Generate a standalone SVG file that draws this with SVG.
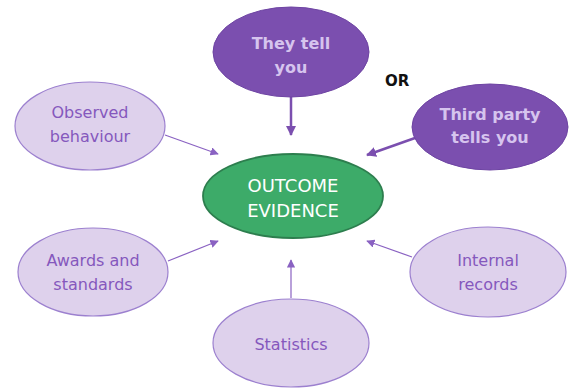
<svg xmlns="http://www.w3.org/2000/svg" width="574" height="390" viewBox="0 0 574 390">
<style>
.dark{fill:#7B4FAF;stroke:#6E44A3;stroke-width:1}
.light{fill:#DED1EC;stroke:#9C80CF;stroke-width:1.2}
.center{fill:#3DAB69;stroke:#2D7E4E;stroke-width:1.8}
.dt{font-family:"DejaVu Sans",Verdana,sans-serif;font-size:16px;font-weight:bold;fill:#D6C4EE;text-anchor:middle}
.lt{font-family:"DejaVu Sans",Verdana,sans-serif;font-size:16px;fill:#8558BD;text-anchor:middle}
.ct{font-family:"DejaVu Sans",Verdana,sans-serif;font-size:18px;fill:#FFFFFF;text-anchor:middle}
.or{font-family:"DejaVu Sans",Verdana,sans-serif;font-size:15px;font-weight:bold;fill:#111111}
.thick{stroke:#7B4FAF;stroke-width:2.5;fill:none}
.thin{stroke:#8A62C2;stroke-width:1.2;fill:none}
</style>
<defs>
<marker id="ah" viewBox="0 0 10 10" refX="9" refY="5" markerWidth="4" markerHeight="4" orient="auto" markerUnits="strokeWidth"><path d="M0,0 L10,5 L0,10 z" fill="#7B4FAF"/></marker>
<marker id="al" viewBox="0 0 10 10" refX="9" refY="5" markerWidth="7" markerHeight="7" orient="auto" markerUnits="strokeWidth"><path d="M0,0 L10,5 L0,10 z" fill="#8A62C2"/></marker>
</defs>
<g id="connectors">
<line class="thick" x1="291" y1="97" x2="291" y2="135" marker-end="url(#ah)"/>
<line class="thick" x1="415" y1="138" x2="367" y2="155" marker-end="url(#ah)"/>
<line class="thin" x1="165" y1="135" x2="218" y2="154" marker-end="url(#al)"/>
<line class="thin" x1="168" y1="261" x2="218" y2="241" marker-end="url(#al)"/>
<line class="thin" x1="291" y1="298" x2="291" y2="260" marker-end="url(#al)"/>
<line class="thin" x1="412" y1="257" x2="367" y2="241" marker-end="url(#al)"/>
</g>
<g id="they-tell-you">
<ellipse class="dark" cx="291" cy="52" rx="78" ry="45"/>
<text class="dt" x="291" y="49">They tell</text>
<text class="dt" x="291" y="73">you</text>
</g>
<text id="or" class="or" x="385" y="86">OR</text>
<g id="third-party">
<ellipse class="dark" cx="490" cy="127" rx="78" ry="43"/>
<text class="dt" x="490" y="120">Third party</text>
<text class="dt" x="490" y="143">tells you</text>
</g>
<g id="observed">
<ellipse class="light" cx="90" cy="126" rx="75" ry="44"/>
<text class="lt" x="90" y="118">Observed</text>
<text class="lt" x="90" y="142">behaviour</text>
</g>
<g id="outcome">
<ellipse class="center" cx="293" cy="196" rx="90" ry="42"/>
<text class="ct" x="293" y="192">OUTCOME</text>
<text class="ct" x="293" y="217">EVIDENCE</text>
</g>
<g id="awards">
<ellipse class="light" cx="93" cy="272" rx="75" ry="44"/>
<text class="lt" x="93" y="266">Awards and</text>
<text class="lt" x="93" y="290">standards</text>
</g>
<g id="internal">
<ellipse class="light" cx="488" cy="272" rx="78" ry="45"/>
<text class="lt" x="488" y="266">Internal</text>
<text class="lt" x="488" y="290">records</text>
</g>
<g id="statistics">
<ellipse class="light" cx="291" cy="343" rx="78" ry="44"/>
<text class="lt" x="291" y="350">Statistics</text>
</g>
</svg>
